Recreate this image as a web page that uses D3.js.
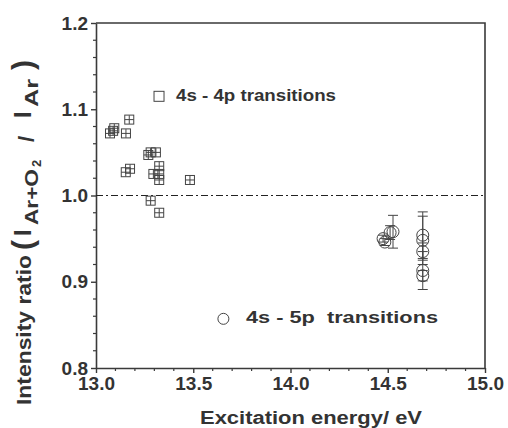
<!DOCTYPE html>
<html>
<head>
<meta charset="utf-8">
<script src="https://cdn.jsdelivr.net/npm/d3@7"></script>
<style>
  body { margin: 0; background: #fff; }
  text { font-family: "Liberation Sans", Arial, sans-serif; font-weight: bold; fill: #333; }
</style>
</head>
<body>
<svg id="chart" width="508" height="428"></svg>
<script>
// 4s - 4p transitions (squares)
var pX = [13.072, 13.094, 13.088, 13.154, 13.171, 13.153, 13.175, 13.269, 13.281, 13.308, 13.325, 13.295, 13.325, 13.325, 13.483, 13.281, 13.325];
var pY = [1.072, 1.078, 1.075, 1.072, 1.088, 1.027, 1.031, 1.047, 1.050, 1.050, 1.034, 1.025, 1.025, 1.018, 1.018, 0.994, 0.980];
var pErr = [0.005, 0.005, 0.005, 0.005, 0.005, 0.005, 0.005, 0.005, 0.005, 0.005, 0.005, 0.005, 0.005, 0.005, 0.005, 0.005, 0.005];

// 4s - 5p transitions (circles)
var sX = [14.476, 14.485, 14.512, 14.527, 14.680, 14.680, 14.680, 14.680, 14.680];
var sY = [0.950, 0.946, 0.957, 0.958, 0.954, 0.948, 0.935, 0.913, 0.907];
var sErr = [0.004, 0.004, 0.008, 0.019, 0.027, 0.028, 0.010, 0.022, 0.006];

var xTicks = [13.0, 13.5, 14.0, 14.5, 15.0];
var yTicks = [0.8, 0.9, 1.0, 1.1, 1.2];

var svg = d3.select("#chart");
var mLeft = 96, mRight = 485, mTop = 23, mBottom = 368;

var x = d3.scaleLinear().domain([13, 15]).range([mLeft, mRight]);
var y = d3.scaleLinear().domain([0.8, 1.2]).range([mBottom, mTop]);

var ink = "#3a3a3a";

// minor ticks
var xMinor = d3.range(13.0, 15.001, 0.1).filter(function(v) { return Math.abs(v * 2 - Math.round(v * 2)) > 1e-6; });
var yMinor = d3.range(0.8, 1.2001, 0.02).filter(function(v) { return Math.abs(v * 10 - Math.round(v * 10)) > 1e-6; });

svg.append("g").selectAll("line").data(xMinor).enter().append("line")
  .attr("x1", function(d) { return x(d); }).attr("x2", function(d) { return x(d); })
  .attr("y1", mBottom).attr("y2", mBottom + 3)
  .attr("stroke", ink).attr("stroke-width", 1.2);

svg.append("g").selectAll("line").data(yMinor).enter().append("line")
  .attr("y1", function(d) { return y(d); }).attr("y2", function(d) { return y(d); })
  .attr("x1", mLeft).attr("x2", mLeft - 3)
  .attr("stroke", ink).attr("stroke-width", 1.2);

// X axis
var xAxis = svg.append("g")
  .attr("transform", "translate(0," + mBottom + ")")
  .call(d3.axisBottom(x).tickValues(xTicks).tickSize(5).tickSizeOuter(0).tickFormat(d3.format(".1f")));
xAxis.select(".domain").attr("stroke", ink).attr("stroke-width", 1.6);
xAxis.selectAll(".tick line").attr("stroke", ink).attr("stroke-width", 1.4);
xAxis.selectAll(".tick text").attr("font-size", 19).attr("dy", "0.8em").attr("y", 7)
  .attr("fill", "#333").style("font-family", "Liberation Sans, Arial, sans-serif").style("font-weight", "bold");

// Y axis
var yAxis = svg.append("g")
  .attr("transform", "translate(" + mLeft + ",0)")
  .call(d3.axisLeft(y).tickValues(yTicks).tickSize(5).tickSizeOuter(0).tickFormat(d3.format(".1f")));
yAxis.select(".domain").attr("stroke", ink).attr("stroke-width", 1.6);
yAxis.selectAll(".tick text").attr("font-size", 19).attr("x", -8)
  .attr("fill", "#333").style("font-family", "Liberation Sans, Arial, sans-serif").style("font-weight", "bold");
yAxis.selectAll(".tick line").attr("stroke", ink).attr("stroke-width", 1.4);

// frame top & right
svg.append("path")
  .attr("d", "M" + mLeft + "," + mTop + "H" + mRight + "V" + mBottom)
  .attr("fill", "none").attr("stroke", ink).attr("stroke-width", 1.6);

// reference line at 1.0
svg.append("line")
  .attr("x1", mLeft).attr("x2", mRight)
  .attr("y1", y(1.0)).attr("y2", y(1.0))
  .attr("stroke", "#222").attr("stroke-width", 1)
  .attr("stroke-dasharray", "7,3,2,3");

// squares with error bars
var sq = 9;
var gP = svg.append("g").attr("stroke", "#444").attr("fill", "none").attr("stroke-width", 1);
pX.forEach(function(px, i) {
  var cx = x(px), cy = y(pY[i]);
  gP.append("rect").attr("x", cx - sq / 2).attr("y", cy - sq / 2).attr("width", sq).attr("height", sq);
  gP.append("line").attr("x1", cx).attr("x2", cx).attr("y1", y(pY[i] + pErr[i])).attr("y2", y(pY[i] - pErr[i]));
  gP.append("line").attr("x1", cx - sq / 2).attr("x2", cx + sq / 2).attr("y1", cy).attr("y2", cy);
});

// circles with error bars
var r = 6;
var gS = svg.append("g").attr("stroke", "#444").attr("fill", "none").attr("stroke-width", 1);
sX.forEach(function(px, i) {
  var cx = x(px), cy = y(sY[i]);
  var y1 = y(sY[i] + sErr[i]), y2 = y(sY[i] - sErr[i]);
  gS.append("line").attr("x1", cx).attr("x2", cx).attr("y1", y1).attr("y2", y2);
  gS.append("line").attr("x1", cx - 5).attr("x2", cx + 5).attr("y1", y1).attr("y2", y1);
  gS.append("line").attr("x1", cx - 5).attr("x2", cx + 5).attr("y1", y2).attr("y2", y2);
  gS.append("circle").attr("cx", cx).attr("cy", cy).attr("r", r);
});

// legends
svg.append("rect").attr("x", x(13.324) - 5).attr("y", y(1.115) - 5).attr("width", 10).attr("height", 10)
  .attr("fill", "none").attr("stroke", "#444").attr("stroke-width", 1);
svg.append("text").attr("x", 176).attr("y", 101).attr("font-size", 16)
  .attr("textLength", 160).attr("lengthAdjust", "spacingAndGlyphs").text("4s - 4p transitions");

svg.append("circle").attr("cx", x(13.655)).attr("cy", y(0.857)).attr("r", 5.5)
  .attr("fill", "none").attr("stroke", "#444").attr("stroke-width", 1);
svg.append("text").attr("x", 246).attr("y", 323).attr("font-size", 16)
  .attr("textLength", 192).attr("lengthAdjust", "spacingAndGlyphs")
  .style("white-space", "pre").text("4s - 5p  transitions");

// axis titles
svg.append("text").attr("x", 200).attr("y", 424)
  .attr("font-size", 18).attr("textLength", 222).attr("lengthAdjust", "spacingAndGlyphs")
  .text("Excitation energy/ eV");

// y title, pieces placed along the rotated axis (screen y = -x)
var yt = svg.append("text").attr("transform", "translate(31,0) rotate(-90)").style("white-space", "pre");
yt.append("tspan").attr("x", -405).attr("y", 0).attr("font-size", 21)
  .attr("textLength", 150).attr("lengthAdjust", "spacingAndGlyphs").text("Intensity ratio");
yt.append("tspan").attr("x", -250).attr("y", 2).attr("font-size", 30).text("(");
yt.append("tspan").attr("x", -236).attr("y", 0).attr("font-size", 24).text("I");
yt.append("tspan").attr("x", -225).attr("y", 7).attr("font-size", 18)
  .attr("textLength", 56).attr("lengthAdjust", "spacingAndGlyphs").text("Ar+O");
yt.append("tspan").attr("x", -167).attr("y", 10).attr("font-size", 13).text("2");
yt.append("tspan").attr("x", -142).attr("y", 3).attr("font-size", 22).text("/");
yt.append("tspan").attr("x", -118).attr("y", 0).attr("font-size", 24).text("I");
yt.append("tspan").attr("x", -107).attr("y", 7).attr("font-size", 18)
  .attr("textLength", 28).attr("lengthAdjust", "spacingAndGlyphs").text("Ar");
yt.append("tspan").attr("x", -70).attr("y", 2).attr("font-size", 30).text(")");
</script>
</body>
</html>
